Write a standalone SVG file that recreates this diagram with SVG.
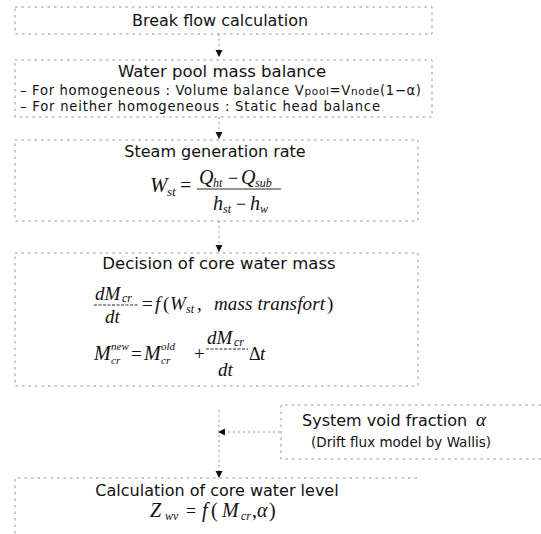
<svg xmlns="http://www.w3.org/2000/svg" width="541" height="534" viewBox="0 0 541 534">
<defs>
<marker id="ah" markerUnits="userSpaceOnUse" markerWidth="8" markerHeight="8" viewBox="0 0 8 8" refX="7" refY="4" orient="auto">
<path d="M0,0.5 L7,4 L0,7.5 Z" fill="#111"/>
</marker>
<style>
.box{fill:none;stroke:#888;stroke-width:0.9;stroke-dasharray:2.5 4}
.con{fill:none;stroke:#888;stroke-width:0.9;stroke-dasharray:2 3}
.t{font-family:"DejaVu Sans","Liberation Sans",sans-serif;fill:#111}
.m{font-family:"Liberation Serif","DejaVu Serif",serif;font-style:italic;fill:#111}
.r{font-family:"Liberation Serif","DejaVu Serif",serif;font-style:normal;fill:#111}
.fl{stroke:#111;stroke-width:0.9}
</style>
</defs>
<rect width="541" height="534" fill="#fff"/>

<g id="connectors">
<line class="con" x1="219" y1="34" x2="219" y2="57" marker-end="url(#ah)"/>
<line class="con" x1="219" y1="117" x2="219" y2="139" marker-end="url(#ah)"/>
<line class="con" x1="219" y1="221" x2="219" y2="252" marker-end="url(#ah)"/>
<line class="con" x1="280" y1="432" x2="218" y2="432" marker-end="url(#ah)"/>
<line class="con" x1="219" y1="410" x2="219" y2="478" marker-end="url(#ah)"/>
</g>

<g id="node-break">
<rect class="box" x="15" y="7" width="417" height="27"/>
<text class="t" x="220" y="26" font-size="16" text-anchor="middle">Break flow calculation</text>
</g>

<g id="node-pool">
<rect class="box" x="15" y="60" width="417" height="57"/>
<text class="t" x="222" y="77" font-size="16.5" text-anchor="middle">Water pool mass balance</text>
<text class="t" x="20" y="95" font-size="13.2" textLength="401" lengthAdjust="spacing">– For homogeneous : Volume balance  V<tspan font-size="10.5">pool</tspan>=V<tspan font-size="10.5">node</tspan>(1−α)</text>
<text class="t" x="20" y="111" font-size="13.2" textLength="360" lengthAdjust="spacing">– For neither  homogeneous : Static head balance</text>
</g>

<g id="node-steam">
<rect class="box" x="15" y="140" width="403" height="81"/>
<text class="t" x="215" y="157" font-size="16" text-anchor="middle">Steam generation rate</text>
<text class="m" x="150" y="192" font-size="21">W</text>
<text class="m" x="167" y="196" font-size="13">st</text>
<text class="r" x="180" y="192" font-size="20">=</text>
<text class="m" x="199" y="184" font-size="20">Q</text>
<text class="m" x="213" y="187" font-size="12">ht</text>
<text class="r" x="228" y="184" font-size="18">−</text>
<text class="m" x="241" y="184" font-size="20">Q</text>
<text class="m" x="255" y="187" font-size="12">sub</text>
<line class="fl" x1="197" y1="189" x2="281" y2="189"/>
<text class="m" x="213" y="210" font-size="20">h</text>
<text class="m" x="223" y="213" font-size="12">st</text>
<text class="r" x="236" y="210" font-size="18">−</text>
<text class="m" x="250" y="210" font-size="20">h</text>
<text class="m" x="260" y="213" font-size="12">w</text>
</g>

<g id="node-decision">
<rect class="box" x="15" y="253" width="403" height="133"/>
<text class="t" x="219" y="269" font-size="16.5" text-anchor="middle">Decision of core water mass</text>
<text class="m" x="95" y="300" font-size="19">dM</text>
<text class="m" x="122" y="302" font-size="12">cr</text>
<line class="fl" x1="94" y1="305" x2="138" y2="305" stroke-dasharray="3 1.5"/>
<text class="m" x="105" y="323" font-size="19">dt</text>
<text class="r" x="142" y="310" font-size="19">=</text>
<text class="m" x="155" y="310" font-size="19">f</text>
<text class="r" x="163" y="310" font-size="19">(</text>
<text class="m" x="170" y="310" font-size="19">W</text>
<text class="m" x="186" y="313" font-size="12">st</text>
<text class="r" x="197" y="310" font-size="19">,</text>
<text class="m" x="214" y="310" font-size="19" textLength="111" lengthAdjust="spacing">mass  transfort</text>
<text class="r" x="327" y="310" font-size="19">)</text>
<text class="m" x="94" y="360" font-size="20">M</text>
<text class="m" x="111" y="350" font-size="11">new</text>
<text class="m" x="111" y="364" font-size="11">cr</text>
<text class="r" x="131" y="360" font-size="19">=</text>
<text class="m" x="144" y="360" font-size="20">M</text>
<text class="m" x="161" y="350" font-size="11">old</text>
<text class="m" x="161" y="364" font-size="11">cr</text>
<text class="r" x="194" y="360" font-size="19">+</text>
<text class="m" x="207" y="344" font-size="19">dM</text>
<text class="m" x="234" y="346" font-size="12">cr</text>
<line class="fl" x1="206" y1="349" x2="248" y2="349" stroke-dasharray="3 1.5"/>
<text class="m" x="218" y="376" font-size="19">dt</text>
<text class="r" x="249" y="360" font-size="18">Δ</text>
<text class="m" x="260" y="360" font-size="19">t</text>
</g>

<g id="node-void">
<path class="box" d="M541,405 H281 V459 H541"/>
<text class="t" x="302" y="426" font-size="16">System void fraction</text>
<text class="m" x="476" y="426" font-size="19">α</text>
<text class="t" x="401" y="447" font-size="13.5" text-anchor="middle">(Drift flux model by Wallis)</text>
</g>

<g id="node-level">
<path class="box" d="M15,540 V478 H418"/>
<text class="t" x="217" y="496" font-size="16" text-anchor="middle">Calculation of core water level</text>
<text class="m" x="150" y="517" font-size="20">Z</text>
<text class="m" x="165" y="520" font-size="12">wv</text>
<text class="r" x="186" y="517" font-size="18">=</text>
<text class="m" x="202" y="517" font-size="20">f</text>
<text class="r" x="211" y="517" font-size="20">(</text>
<text class="m" x="222" y="517" font-size="20">M</text>
<text class="m" x="241" y="520" font-size="12">cr</text>
<text class="r" x="252" y="517" font-size="20">,</text>
<text class="m" x="257" y="517" font-size="20">α</text>
<text class="r" x="269" y="517" font-size="20">)</text>
</g>
</svg>
